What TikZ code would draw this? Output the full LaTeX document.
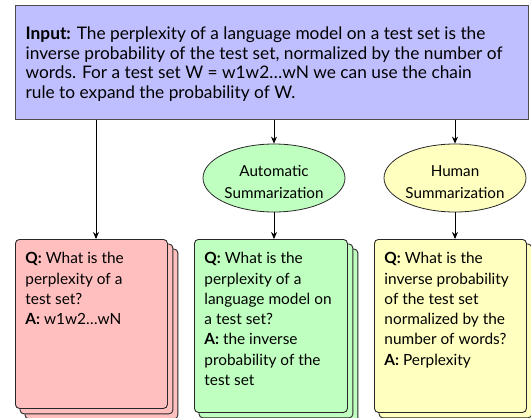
\documentclass[tikz,border=0pt]{standalone}
\usepackage{fontspec}
\setmainfont{Lato}
\usetikzlibrary{shapes.geometric,arrows.meta,backgrounds,calc}
\definecolor{inputfill}{RGB}{191,191,255}
\definecolor{redfill}{RGB}{255,191,191}
\definecolor{greenfill}{RGB}{191,255,191}
\definecolor{yellowfill}{RGB}{255,255,191}
\definecolor{edge}{RGB}{40,40,40}
\begin{document}
\begin{tikzpicture}[x=1pt,y=-1pt,
  inputbox/.style={draw=black!70, line width=1.3pt, fill=inputfill, font=\fontsize{17.3}{19.8}\selectfont, inner xsep=10pt, inner ysep=0pt},
  card/.style={draw=edge, line width=0.9pt, rounded corners=4pt, font=\fontsize{15.4}{20.3}\selectfont, inner xsep=10pt, inner ysep=0pt},
  cardback/.style={draw=edge, line width=0.9pt, rounded corners=4pt},
  topic/.style={ellipse, draw=edge, line width=0.8pt, minimum width=142pt, minimum height=68pt, inner sep=0pt},
  topictext/.style={font=\fontsize{15.2}{21.5}\selectfont, align=center, inner sep=0pt},
  arr/.style={draw=black, line width=0.8pt, -{Stealth[length=7pt,width=6pt]}}
]
\useasboundingbox (0,0) rectangle (531,418);

\node[inputbox, anchor=north west] (input) at (15,5)
{\parbox[t][114pt][t]{493pt}{\vspace*{21pt}\raggedright\textbf{Input:} The perplexity of a language model on a test set is the\\
inverse probability of the test set, normalized by the number of\\
words. For a test set W = w1w2…wN we can use the chain\\
rule to expand the probability of W.}};

\node[topic, fill=greenfill] (auto) at (274,178) {};
\node[topictext] (autotext) at ([yshift=-4pt]auto.center) {Automatic\\Summarization};
\node[topic, fill=yellowfill] (human) at (455,178) {};
\node[topictext] (humantext) at ([yshift=-4pt]human.center) {Human\\Summarization};

\node[card, fill=redfill, anchor=north west] (qa1) at (15,239)
{\parbox[t][169pt][t]{132pt}{\vspace*{13pt}\raggedright\textbf{Q:} What is the\\ perplexity of a\\ test set?\\ \textbf{A:} w1w2…wN}};
\node[card, fill=greenfill, anchor=north west] (qa2) at (194,239)
{\parbox[t][173pt][t]{133pt}{\vspace*{13pt}\raggedright\textbf{Q:} What is the\\ perplexity of a\\ language model on\\ a test set?\\ \textbf{A:} the inverse\\ probability of the\\ test set}};
\node[card, fill=yellowfill, anchor=north west] (qa3) at (374,239)
{\parbox[t][173pt][t]{132pt}{\vspace*{13pt}\raggedright\textbf{Q:} What is the\\ inverse probability\\ of the test set\\ normalized by the\\ number of words?\\ \textbf{A:} Perplexity}};

\begin{scope}[on background layer]
  \foreach \n/\c in {qa1/redfill,qa2/greenfill,qa3/yellowfill}{
    \foreach \d in {10,5}{
      \draw[cardback, fill=\c] ($(\n.north west)+(\d,\d)$) rectangle ($(\n.south east)+(\d,\d)$);
    }
  }
\end{scope}

\coordinate (redtop) at (96,239);
\draw[arr] (input.south -| redtop) -- (redtop);
\draw[arr] (input.south -| auto.north) -- (auto.north);
\draw[arr] (input.south -| human.north) -- (human.north);
\draw[arr] (auto.south) -- (auto.south |- qa2.north);
\draw[arr] (human.south) -- (human.south |- qa3.north);
\end{tikzpicture}
\end{document}
